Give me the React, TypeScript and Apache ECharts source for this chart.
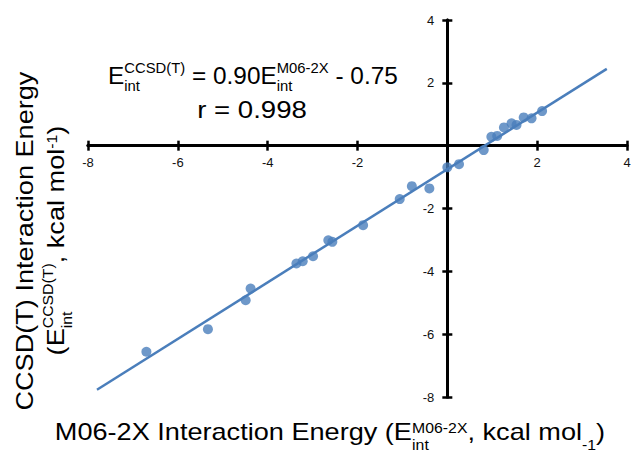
import React, { useEffect, useRef } from "react";
import * as echarts from "echarts";

const axisMin = -8;
const axisMax = 4;
const axisStep = 2;

// M06-2X interaction energies (x) and CCSD(T) interaction energies (y), kcal/mol
const m062xEnergy = [2.11, 1.875, 1.7, 1.54, 1.43, 1.26, 1.11, 0.98, 0.81, 0.26, 0.0, -0.4, -0.79, -1.06, -1.875, -2.56, -2.65, -2.99, -3.22, -3.36, -4.38, -4.49, -5.33, -6.7];
const ccsdEnergy = [1.1, 0.87, 0.9, 0.66, 0.71, 0.58, 0.31, 0.28, -0.14, -0.59, -0.69, -1.36, -1.29, -1.7, -2.53, -3.06, -3.01, -3.52, -3.68, -3.75, -4.55, -4.92, -5.84, -6.56];

// linear trend line end points
const trendX = [-7.8, 3.55];
const trendY = [-7.77, 2.445];

const FONT = "'Liberation Sans', Arial, Helvetica, sans-serif";
const BLUE = "#4a7ebb";

const GRID = { left: 88, right: 9, top: 20, bottom: 66 };
const W = 636;
const H = 463;

let measureCtx: CanvasRenderingContext2D | null = null;
function textWidth(t: string, size: number) {
  if (!measureCtx) measureCtx = document.createElement("canvas").getContext("2d");
  measureCtx!.font = `${size}px ${FONT}`;
  return measureCtx!.measureText(t).width;
}

type Seg = { t?: string; sup?: string; sub?: string; supDy?: number; subDy?: number };

function buildPieces(segs: Seg[], F: number, f: number, supDy: number, subDy: number) {
  const children: any[] = [];
  let x = 0;
  const mk = (text: string, size: number, dx: number, dy: number) => {
    const lead = text.length - text.trimStart().length;
    const off = lead ? textWidth(" ".repeat(lead), size) : 0;
    return {
      type: "text",
      x: dx + off,
      y: dy - 0.35 * size,
      style: {
        text: text.trimStart(),
        fontSize: size,
        fontFamily: FONT,
        fill: "#000",
        align: "left",
        textAlign: "left",
        verticalAlign: "middle",
        textVerticalAlign: "middle",
      },
    };
  };
  for (const s of segs) {
    if (s.t !== undefined) {
      children.push(mk(s.t, F, x, 0));
      x += textWidth(s.t, F);
    } else {
      let w = 0;
      if (s.sup) {
        children.push(mk(s.sup, f, x, s.supDy ?? supDy));
        w = Math.max(w, textWidth(s.sup, f));
      }
      if (s.sub) {
        children.push(mk(s.sub, f, x, s.subDy ?? subDy));
        w = Math.max(w, textWidth(s.sub, f));
      }
      x += w;
    }
  }
  return { children, width: x };
}

export default function App() {
  const ref = useRef<HTMLDivElement>(null);

  useEffect(() => {
    if (!ref.current) return;
    const chart = echarts.init(ref.current, undefined, { renderer: "svg" });

    const points = m062xEnergy.map((x, i) => [x, ccsdEnergy[i]]);
    const trend = trendX.map((x, i) => [x, trendY[i]]);

    // distance from grid edges to the zero lines (axes cross at origin)
    const plotW = W - GRID.left - GRID.right;
    const plotH = H - GRID.top - GRID.bottom;
    const zeroFromLeft = ((0 - axisMin) / (axisMax - axisMin)) * plotW;
    const zeroFromBottom = ((0 - axisMin) / (axisMax - axisMin)) * plotH;

    const sTitle = 1.13;
    const xTitle = buildPieces(
      [{ t: "M06-2X Interaction Energy (E" }, { sup: "M06-2X", sub: "int" }, { t: ", kcal mol" }, { sub: "-1" }, { t: ")" }],
      24, 14, -7, 10
    );
    const yTitle1 = buildPieces([{ t: "CCSD(T) Interaction Energy" }], 24, 14, -11, 8);
    const yTitle2 = buildPieces(
      [{ t: "(E" }, { sup: "CCSD(T)", sub: "int" }, { t: ", kcal mol" }, { sup: "-1", supDy: -7 }, { t: ")" }],
      24, 14, -11, 8
    );
    const sEq = 1.06;
    const eq = buildPieces(
      [{ t: "E" }, { sup: "CCSD(T)", sub: "int" }, { t: " = 0.90E" }, { sup: "M06-2X", sub: "int" }, { t: " - 0.75" }],
      23, 14, -11, 7
    );
    const sR = 1.15;
    const rLine = buildPieces([{ t: "r = 0.998" }], 24, 14, 0, 0);

    const labelFmt = (v: number) => (v === 0 ? "" : String(v));
    const axisLineStyle = { color: "#000", width: 3 };
    const tickStyle = { color: "#000", width: 2.5 };
    const labelStyle = { fontSize: 13, color: "#111", fontFamily: FONT };

    const base = {
      type: "value",
      min: axisMin,
      max: axisMax,
      interval: axisStep,
      splitLine: { show: false },
    };

    chart.setOption({
      animation: false,
      backgroundColor: "#fff",
      grid: { ...GRID, containLabel: false, outerBoundsMode: "none" },
      xAxis: [
        {
          ...base,
          position: "bottom",
          offset: -zeroFromBottom,
          axisLine: { show: true, onZero: false, lineStyle: axisLineStyle },
          axisTick: { show: true, inside: false, length: 5, lineStyle: tickStyle },
          axisLabel: { ...labelStyle, margin: 10, formatter: labelFmt },
        },
        {
          ...base,
          position: "bottom",
          offset: -zeroFromBottom,
          axisLine: { show: true, onZero: false, lineStyle: axisLineStyle },
          axisTick: { show: true, inside: true, length: 5, lineStyle: tickStyle },
          axisLabel: { show: false },
        },
      ],
      yAxis: [
        {
          ...base,
          position: "left",
          offset: -zeroFromLeft,
          axisLine: { show: true, onZero: false, lineStyle: axisLineStyle },
          axisTick: { show: true, inside: false, length: 5, lineStyle: tickStyle },
          axisLabel: { ...labelStyle, margin: 13, formatter: labelFmt },
        },
        {
          ...base,
          position: "left",
          offset: -zeroFromLeft,
          axisLine: { show: true, onZero: false, lineStyle: axisLineStyle },
          axisTick: { show: true, inside: true, length: 5, lineStyle: tickStyle },
          axisLabel: { show: false },
        },
      ],
      series: [
        {
          type: "scatter",
          data: points,
          symbol: "circle",
          symbolSize: 10,
          itemStyle: { color: BLUE },
          z: 3,
        },
        {
          type: "line",
          data: trend,
          showSymbol: false,
          symbol: "none",
          lineStyle: { color: BLUE, width: 2.5 },
          z: 4,
        },
      ],
      graphic: [
        { type: "group", x: 108, y: 84, scaleX: sEq, children: eq.children },
        { type: "group", x: 252 - (rLine.width * sR) / 2, y: 118, scaleX: sR, children: rLine.children },
        { type: "group", x: 330 - (xTitle.width * sTitle) / 2, y: 440, scaleX: sTitle, children: xTitle.children },
        {
          type: "group",
          x: 33,
          y: 241 + (yTitle1.width * sTitle) / 2,
          rotation: Math.PI / 2,
          scaleX: sTitle,
          children: yTitle1.children,
        },
        {
          type: "group",
          x: 64,
          y: 240.5 + (yTitle2.width * sTitle) / 2,
          rotation: Math.PI / 2,
          scaleX: sTitle,
          children: yTitle2.children,
        },
      ],
    });

    return () => chart.dispose();
  }, []);

  return (
    <div
      ref={ref}
      style={{ position: "fixed", left: 0, top: 0, width: W, height: H, background: "#fff" }}
    />
  );
}
